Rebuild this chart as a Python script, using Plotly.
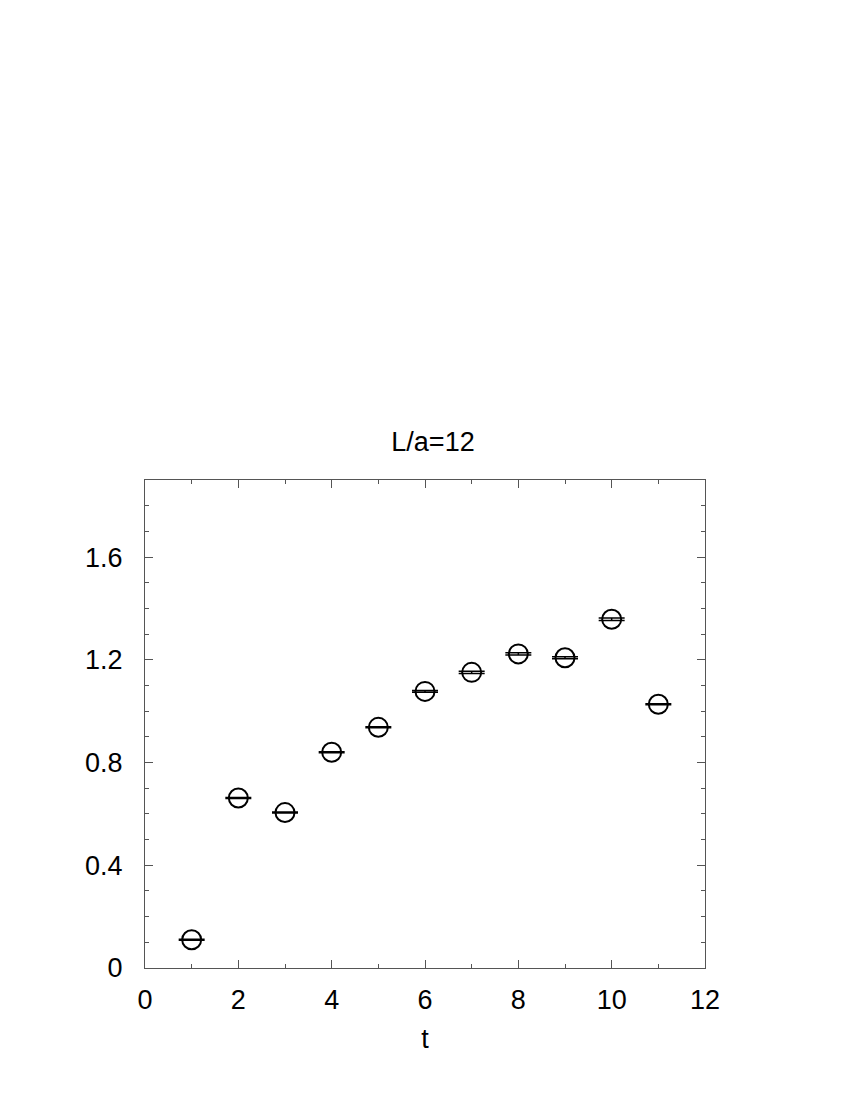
import plotly.graph_objects as go

t = [1, 2, 3, 4, 5, 6, 7, 8, 9, 10, 11]
vals = [0.110, 0.662, 0.605, 0.840, 0.937, 1.077, 1.151, 1.223, 1.208, 1.358, 1.027]
errs = [0.002, 0.002, 0.002, 0.002, 0.002, 0.003, 0.004, 0.004, 0.004, 0.005, 0.002]

FONT = "Liberation Sans, Arial, sans-serif"

fig = go.Figure()
fig.add_trace(go.Scatter(
    x=t, y=vals, mode="markers",
    marker=dict(symbol="circle-open", size=19, color="black", line=dict(width=2, color="black")),
    error_y=dict(type="data", array=errs, visible=True, color="black", thickness=1.5, width=13),
    showlegend=False,
))

axis_common = dict(
    showline=True, linecolor="#555", linewidth=1, mirror="ticks",
    ticks="inside", ticklen=8, tickcolor="#555", tickwidth=1,
    showgrid=False, zeroline=False,
    tickfont=dict(family=FONT, size=27, color="black"),
)

fig.update_layout(
    width=850, height=1100,
    paper_bgcolor="white", plot_bgcolor="white",
    margin=dict(l=137, r=153, t=472, b=140),
    title=dict(text="L/a=12", x=0.5, xanchor="center", y=1 - 434/1100, yanchor="middle",
               font=dict(family=FONT, size=27, color="black")),
    xaxis=dict(range=[0, 12], tickvals=[0, 2, 4, 6, 8, 10, 12],
               minor=dict(dtick=1, ticks="inside", ticklen=4, tickcolor="#555"),
               ticklabelstandoff=8,
               title=dict(text="t", font=dict(family=FONT, size=27, color="black"), standoff=14),
               **axis_common),
    yaxis=dict(range=[0, 1.9], tickvals=[0, 0.4, 0.8, 1.2, 1.6], ticktext=["0", "0.4", "0.8", "1.2", "1.6"],
               minor=dict(dtick=0.1, ticks="inside", ticklen=4, tickcolor="#555"),
               ticklabelstandoff=16,
               **axis_common),
)

fig.write_html("out.html")
